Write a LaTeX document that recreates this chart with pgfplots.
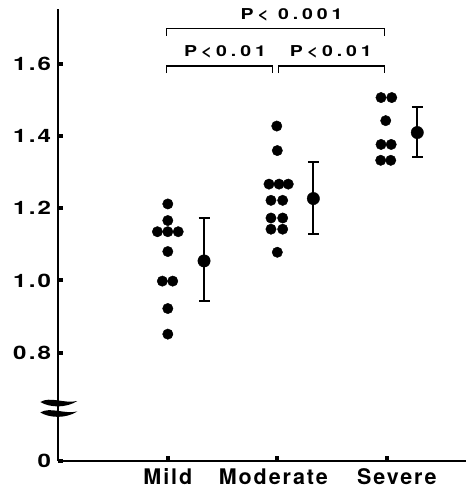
\documentclass[border=0pt]{standalone}
\usepackage{fontspec}
\setmainfont{TeX Gyre Heros}
\newfontfamily\ytfont{TeX Gyre Heros}[FakeStretch=1.3,LetterSpace=12]
\newfontfamily\xtfont{TeX Gyre Heros}[LetterSpace=9]
\newfontfamily\pfont{TeX Gyre Heros}[FakeStretch=1.3,LetterSpace=26]
\usepackage{pgfplots}
\pgfplotsset{compat=1.18}
\begin{document}
\begin{tikzpicture}
\useasboundingbox (-58.3pt,-29.3pt) rectangle (408.7pt,460.7pt);
\begin{axis}[
  at={(0,0)}, anchor=south west,
  scale only axis, width=407.7pt, height=451.7pt,
  xmin=0, xmax=3.723, ymin=0.5, ymax=1.7526,
  axis lines=left,
  axis line style={-, line width=1.6pt},
  clip=false,
  tick align=inside,
  major tick length=5pt,
  tick style={line width=4pt, black},
  xtick={1,2,3},
  xticklabels={Mild,{\hspace*{-8pt}Moderate},{\hspace*{20pt}Severe}},
  xticklabel style={font=\xtfont\bfseries\fontsize{21.5}{24}\selectfont, inner sep=0pt, yshift=-8pt},
  ytick={0.5,0.8,1.0,1.2,1.4,1.6},
  yticklabels={0,0.8,1.0,1.2,1.4,1.6},
  yticklabel style={font=\ytfont\bfseries\fontsize{18.5}{20}\selectfont, inner sep=0pt, xshift=-7pt},
]
% individual patients
\addplot[only marks, mark=*, mark size=5.2pt, black] coordinates {
 (1.000,1.212) (1.000,1.166) (0.905,1.135) (1.000,1.135) (1.095,1.135)
 (1.000,1.080) (0.950,0.998) (1.045,0.998) (1.000,0.922) (1.000,0.851)
};
\addplot[only marks, mark=*, mark size=5.2pt, black] coordinates {
 (1.995,1.428) (2.000,1.360) (1.924,1.267) (2.016,1.267) (2.100,1.267)
 (1.942,1.222) (2.049,1.222) (1.942,1.173) (2.049,1.173) (1.942,1.142)
 (2.049,1.142) (2.000,1.078)
};
\addplot[only marks, mark=*, mark size=5.2pt, black] coordinates {
 (2.947,1.507) (3.045,1.507) (2.990,1.443) (2.947,1.377) (3.040,1.377)
 (2.944,1.333) (3.036,1.333)
};
% means with error bars
\addplot[only marks, mark=*, mark size=6.2pt, black,
  error bars/.cd, y dir=both, y explicit,
  error bar style={line width=1.8pt, black},
  error mark options={rotate=90, mark size=5.5pt, line width=1.8pt, black}]
 coordinates {
 (1.331,1.054) += (0,0.120) -= (0,0.111)
 (2.329,1.227) += (0,0.102) -= (0,0.099)
 (3.278,1.410) += (0,0.071) -= (0,0.067)
};
% brackets
\draw[line width=1.5pt] (axis cs:0.99,1.678) -- (axis cs:0.99,1.699) -- (axis cs:2.977,1.699) -- (axis cs:2.977,1.678);
\draw[line width=1.5pt] (axis cs:0.99,1.575) -- (axis cs:0.99,1.594) -- (axis cs:1.958,1.594) -- (axis cs:1.958,1.575);
\draw[line width=1.5pt] (axis cs:2.009,1.575) -- (axis cs:2.009,1.594) -- (axis cs:2.977,1.594) -- (axis cs:2.977,1.575);
\node[font=\pfont\bfseries\fontsize{15}{16}\selectfont, inner sep=0pt] at (axis cs:2.13,1.736) {P< 0.001};
\node[font=\pfont\bfseries\fontsize{15}{16}\selectfont, inner sep=0pt] at (axis cs:1.522,1.634) {P<0.01};
\node[font=\pfont\bfseries\fontsize{15}{16}\selectfont, inner sep=0pt] at (axis cs:2.489,1.634) {P<0.01};
\coordinate (b1) at (axis cs:0,0.660);
\coordinate (b2) at (axis cs:0,0.631);
\end{axis}
\foreach \c in {b1,b2}{
  \fill[black, shift={(\c)}] (-18pt,1pt) .. controls (-8pt,7pt) and (6pt,-1pt) .. (19pt,2pt)
     .. controls (8pt,-5pt) and (-8pt,-5pt) .. cycle;
}
\end{tikzpicture}
\end{document}
